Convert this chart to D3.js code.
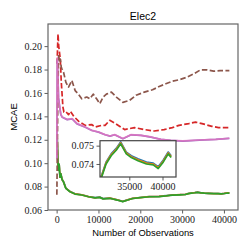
<!DOCTYPE html>
<html>
<head>
<meta charset="utf-8">
<script src="https://cdn.jsdelivr.net/npm/d3@7"></script>
<style>
  body { margin: 0; background: #fff; }
  svg { display: block; }
  .tick text { font-family: "Liberation Serif", serif; }
</style>
</head>
<body>
<svg></svg>
<script>
// Elec2 - MCAE vs number of observations
let title = "Elec2";
let xLabel = "Number of Observations";
let yLabel = "MCAE";

let yTicks = [0.06, 0.08, 0.10, 0.12, 0.14, 0.16, 0.18, 0.20];
let xTicks = [0, 10000, 20000, 30000, 40000];
let insetYTicks = [0.074, 0.075];
let insetXTicks = [35000, 40000];

let greenVals = [[100,0.125],[300,0.100],[450,0.094],[600,0.099],[800,0.088],[1000,0.091],[1300,0.086],[1650,0.084],[2200,0.0785],[3200,0.0756],[4400,0.0736],[6000,0.0728],[7600,0.0713],[9200,0.0703],[10300,0.0708],[11100,0.0695],[12700,0.0700],[14500,0.0685],[15800,0.0672],[17000,0.0685],[18200,0.0698],[20000,0.0705],[22150,0.0713],[24500,0.0715],[26100,0.0720],[27700,0.0727],[29500,0.0730],[30800,0.07325],[31500,0.07400],[32270,0.07445],[33030,0.07475],[33700,0.07510],[34550,0.07455],[35300,0.07435],[36300,0.07418],[37580,0.07400],[38600,0.07395],[39350,0.07375],[40100,0.07410],[40860,0.07455],[41300,0.07435]];
let orangeVals = [[100,0.125],[300,0.100],[450,0.094],[600,0.099],[800,0.088],[1000,0.091],[1300,0.086],[1650,0.084],[2200,0.0786],[3200,0.0757],[4400,0.0737],[6000,0.0729],[7600,0.0714],[9200,0.0704],[10300,0.0709],[11100,0.0696],[12700,0.0701],[14500,0.0686],[15800,0.0673],[17000,0.0686],[18200,0.0699],[20000,0.0706],[22150,0.0714],[24500,0.0716],[26100,0.0721],[27700,0.0728],[29500,0.07305],[30800,0.07330],[31500,0.07405],[32270,0.07450],[33030,0.07480],[33700,0.07515],[34550,0.07460],[35300,0.07440],[36300,0.07423],[37580,0.07405],[38600,0.07400],[39350,0.07380],[40100,0.07415],[40860,0.07460],[41300,0.07440]];
let blueVals = [[100,0.125],[300,0.100],[450,0.094],[600,0.099],[800,0.088],[1000,0.091],[1300,0.086],[1650,0.084],[2200,0.0787],[3200,0.0758],[4400,0.0738],[6000,0.0730],[7600,0.0715],[9200,0.0705],[10300,0.0710],[11100,0.0697],[12700,0.0702],[14500,0.0687],[15800,0.0674],[17000,0.0687],[18200,0.0700],[20000,0.0707],[22150,0.0715],[24500,0.0717],[26100,0.0722],[27700,0.0729],[29500,0.0731],[30800,0.07335],[31500,0.07410],[32270,0.07455],[33030,0.07485],[33700,0.07520],[34550,0.07465],[35300,0.07445],[36300,0.07428],[37580,0.07410],[38600,0.07405],[39350,0.07385],[40100,0.07420],[40860,0.07465],[41300,0.07445]];
let redVals = [[100,0.185],[330,0.2104],[500,0.200],[875,0.189],[1100,0.170],[1270,0.1607],[1500,0.148],[1740,0.1437],[2220,0.144],[2840,0.1414],[3300,0.1443],[4100,0.140],[5290,0.1357],[6860,0.1323],[8370,0.133],[9220,0.1309],[10730,0.1323],[11580,0.1323],[12700,0.1366],[13880,0.1343],[16240,0.1287],[18600,0.1304],[20970,0.1287],[23330,0.1275],[25700,0.1287],[27660,0.1304],[29240,0.1323],[31600,0.1338],[33190,0.1351],[34750,0.1338],[37120,0.1315],[38700,0.1304],[41300,0.1304]];
let purpleVals = [[50,0.104],[150,0.188],[300,0.176],[450,0.156],[700,0.149],[1000,0.1415],[1350,0.1392],[2530,0.1372],[3710,0.1378],[4890,0.1336],[6860,0.1307],[8440,0.1279],[10020,0.1265],[11580,0.1243],[12770,0.1231],[13880,0.1243],[15840,0.1209],[17820,0.1242],[20190,0.1237],[22550,0.1223],[24920,0.1203],[27280,0.1195],[30190,0.1189],[34140,0.1197],[38060,0.1203],[41300,0.1212]];
let pinkVals = [[50,0.104],[150,0.19],[300,0.175],[450,0.155],[700,0.148],[1000,0.142],[1350,0.1394],[2530,0.1374],[3710,0.138],[4890,0.1338],[6860,0.1309],[8440,0.128],[10020,0.1266],[11580,0.1244],[12770,0.1232],[13880,0.1244],[15840,0.121],[17820,0.1244],[20190,0.1238],[22550,0.1224],[24920,0.1204],[27280,0.1196],[30190,0.119],[34140,0.1198],[38060,0.1204],[41300,0.1213]];
let brownVals = [[50,0.073],[150,0.104],[300,0.160],[480,0.193],[700,0.186],[875,0.189],[1100,0.182],[1270,0.1806],[1650,0.1777],[2220,0.169],[2840,0.165],[3640,0.1706],[4420,0.162],[5200,0.159],[6000,0.155],[7190,0.1565],[7970,0.155],[8750,0.159],[9550,0.155],[10330,0.1508],[11100,0.1565],[11900,0.159],[13100,0.1607],[14280,0.1565],[15840,0.152],[17420,0.1536],[19000,0.158],[20970,0.1607],[22930,0.1627],[24520,0.1655],[26100,0.1678],[27660,0.170],[29240,0.1712],[31200,0.1735],[32790,0.1763],[34370,0.1797],[35930,0.1797],[37520,0.1786],[39100,0.179],[41300,0.179]];

let series = [
    { values: blueVals, color: "#1f77b4", dash: null },
    { values: orangeVals, color: "#ff7f0e", dash: null },
    { values: greenVals, color: "#2ca02c", dash: null },
    { values: redVals, color: "#d62728", dash: "5.5,2.4" },
    { values: purpleVals, color: "#9467bd", dash: null },
    { values: brownVals, color: "#8c564b", dash: "5.5,2.4" },
    { values: pinkVals, color: "#e377c2", dash: null, opacity: 0.8 }
];

let width = 249;
let height = 249;
let mLeft = 48, mRight = 238, mTop = 24, mBottom = 210;

let svg = d3.select("svg")
    .attr("width", width)
    .attr("height", height);

let xScale = d3.scaleLinear().domain([-2065, 43365]).range([mLeft, mRight]);
let yScale = d3.scaleLinear().domain([0.06, 0.2189]).range([mBottom, mTop]);

let defs = svg.append("defs");
defs.append("clipPath").attr("id", "mainClip")
    .append("rect").attr("x", mLeft).attr("y", mTop)
    .attr("width", mRight - mLeft).attr("height", mBottom - mTop);

let drawLines = (g, xs, ys, lw) => {
    let line = d3.line().x((d) => xs(d[0])).y((d) => ys(d[1]));
    series.forEach((s) => {
        g.append("path")
            .attr("d", line(s.values))
            .attr("fill", "none")
            .attr("stroke", s.color)
            .attr("stroke-width", lw)
            .attr("stroke-opacity", s.opacity || 1)
            .attr("stroke-linejoin", "round")
            .attr("stroke-dasharray", s.dash);
    });
}

drawLines(svg.append("g").attr("clip-path", "url(#mainClip)"), xScale, yScale, 1.7);

// axes
let xAxis = d3.axisBottom(xScale).tickValues(xTicks).tickFormat(d3.format("d")).tickSize(3.5).tickPadding(2);
let yAxis = d3.axisLeft(yScale).tickValues(yTicks).tickFormat(d3.format(".2f")).tickSize(3.5).tickPadding(2.5);

let styleAxis = (g, fs) => {
    g.select(".domain").remove();
    g.selectAll(".tick line").attr("stroke", "#333").attr("stroke-width", 0.8);
    g.selectAll(".tick text").attr("fill", "#222").style("font-size", fs + "px");
}

svg.append("g").attr("transform", "translate(0," + mBottom + ")").call(xAxis).call(styleAxis, 10);
svg.append("g").attr("transform", "translate(" + mLeft + ",0)").call(yAxis).call(styleAxis, 10);

svg.append("rect")
    .attr("x", mLeft).attr("y", mTop)
    .attr("width", mRight - mLeft).attr("height", mBottom - mTop)
    .attr("fill", "none").attr("stroke", "#666").attr("stroke-width", 1.2);

// inset
let iL = 100, iR = 176, iT = 140.7, iB = 177;
let ixScale = d3.scaleLinear().domain([30590, 42030]).range([iL, iR]);
let iyScale = d3.scaleLinear().domain([0.07329, 0.07527]).range([iB, iT]);

defs.append("clipPath").attr("id", "insetClip")
    .append("rect").attr("x", iL).attr("y", iT)
    .attr("width", iR - iL).attr("height", iB - iT);

svg.append("rect")
    .attr("x", iL).attr("y", iT)
    .attr("width", iR - iL).attr("height", iB - iT)
    .attr("fill", "#fff");

drawLines(svg.append("g").attr("clip-path", "url(#insetClip)"), ixScale, iyScale, 1.7);

let ixAxis = d3.axisBottom(ixScale).tickValues(insetXTicks).tickFormat(d3.format("d")).tickSize(3.5).tickPadding(2);
let iyAxis = d3.axisLeft(iyScale).tickValues(insetYTicks).tickFormat(d3.format(".3f")).tickSize(3.5).tickPadding(2.5);
svg.append("g").attr("transform", "translate(0," + iB + ")").call(ixAxis).call(styleAxis, 10);
svg.append("g").attr("transform", "translate(" + iL + ",0)").call(iyAxis).call(styleAxis, 10);

svg.append("rect")
    .attr("x", iL).attr("y", iT)
    .attr("width", iR - iL).attr("height", iB - iT)
    .attr("fill", "none").attr("stroke", "#444").attr("stroke-width", 1.2);

// labels
svg.append("text")
    .attr("x", (mLeft + mRight) / 2).attr("y", 19.5)
    .attr("text-anchor", "middle")
    .style("font-family", "Liberation Sans, sans-serif").style("font-size", "10.5px")
    .text(title);

svg.append("text")
    .attr("x", (mLeft + mRight) / 2).attr("y", 236)
    .attr("text-anchor", "middle")
    .style("font-family", "Liberation Sans, sans-serif").style("font-size", "9.4px")
    .text(xLabel);

svg.append("text")
    .attr("transform", "translate(16.5," + (mTop + mBottom) / 2 + ") rotate(-90)")
    .attr("text-anchor", "middle")
    .style("font-family", "Liberation Sans, sans-serif").style("font-size", "9.6px")
    .text(yLabel);
</script>
</body>
</html>
